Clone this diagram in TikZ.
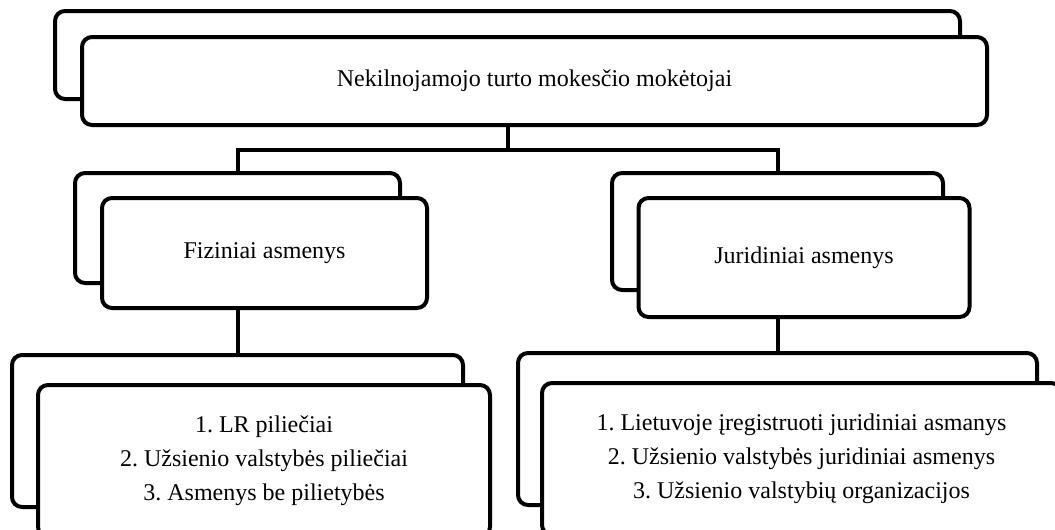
\documentclass[tikz,border=0pt]{standalone}
\usepackage{fontspec}
\setmainfont{Liberation Serif}
\begin{document}
\frenchspacing
\begin{tikzpicture}[x=1pt,y=-1pt,
  box/.style={draw=black, fill=white, line width=4pt, rounded corners=10pt,
    inner sep=0pt, align=center},
  wire/.style={draw=black, line width=4pt},
  lbl/.style={font=\fontsize{24}{34}\selectfont\frenchspacing}]
\useasboundingbox (0,0) rectangle (1055,530);
\clip (0,0) rectangle (1055,530);

% top level
\node[box, minimum width=905pt, minimum height=88pt] (topB) at (507.5,55) {};
\node[box, minimum width=905pt, minimum height=88pt, lbl] (topF) at (534.5,81)
  {Nekilnojamojo turto mokesčio mokėtojai};

% second level
\node[box, minimum width=325pt, minimum height=110pt] (fizB) at (237.5,228) {};
\node[box, minimum width=325pt, minimum height=110pt, lbl] (fizF) at (264.5,253)
  {Fiziniai asmenys};
\node[box, minimum width=331pt, minimum height=117pt] (jurB) at (777.5,231.5) {};
\node[box, minimum width=331pt, minimum height=119pt, lbl] (jurF) at (804,257.5)
  {Juridiniai asmenys};

% third level
\node[box, minimum width=451pt, minimum height=152pt] (fizlB) at (237.5,431) {};
\node[box, minimum width=452pt, minimum height=152pt, lbl] (fizlF) at (264,461)
  {1. LR piliečiai\\2. Užsienio valstybės piliečiai\\3. Asmenys be pilietybės};
\node[box, minimum width=519pt, minimum height=152pt] (jurlB) at (777.5,429) {};
\node[box, minimum width=519pt, minimum height=152pt, lbl] (jurlF) at (801.5,459)
  {1. Lietuvoje įregistruoti juridiniai asmanys\\2. Užsienio valstybės juridiniai asmenys\\3. Užsienio valstybių organizacijos};

% connectors
\coordinate (hub) at (507.5,150);
\draw[wire] (topB.south |- topF.south) -- (hub);
\draw[wire] (hub) -| (fizB.north);
\draw[wire] (hub) -| (jurB.north);
\draw[wire] (fizB.south |- fizF.south) -- (fizlB.north);
\draw[wire] (jurB.south |- jurF.south) -- (jurlB.north);
\end{tikzpicture}
\end{document}
